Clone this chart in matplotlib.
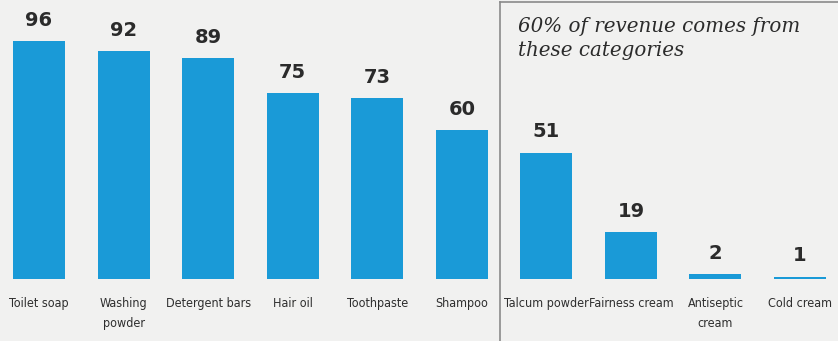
import matplotlib
matplotlib.use('Agg')
import numpy as np
from matplotlib import pyplot as plt
from matplotlib import font_manager
from matplotlib.lines import Line2D

# data
categories = ['Toilet soap', 'Washing\npowder', 'Detergent bars', 'Hair oil', 'Toothpaste',
              'Shampoo', 'Talcum powder', 'Fairness cream', 'Antiseptic\ncream', 'Cold cream']
values = [96, 92, 89, 75, 73, 60, 51, 19, 2, 1]
box_title = '60% of revenue comes from\nthese categories'

names = {f.name for f in font_manager.fontManager.ttflist}
if 'Liberation Sans Narrow' in names:
    label_font = dict(family='Liberation Sans Narrow')
else:
    label_font = dict(family='DejaVu Sans', stretch='condensed')

bg = '#f1f1f0'
blue = '#1a9ad7'

fig = plt.figure(figsize=(8.38, 3.41), dpi=100, facecolor=bg)
W, H = 838, 341
# axes: full width, baseline at y=279 px from top
ax = fig.add_axes((0, (H - 279) / H, 1, 279 / H))
ax.set_facecolor(bg)
step = 84.56
x0 = 39
ax.set_xlim(-x0 / step, (W - x0) / step)
ax.set_ylim(0, 279 / 2.48)
ax.axis('off')

x = np.arange(len(values))
ax.bar(x, values, width=0.615, color=blue)

for xi, v in zip(x, values):
    ax.annotate(str(v), (xi, v), xytext=(0, 8), textcoords='offset points',
                ha='center', va='bottom', fontsize=14, fontweight='bold', color='#2b2b2b')

for xi, c in zip(x, categories):
    ax.annotate(c, (xi, 0), xytext=(0, -13), textcoords='offset points',
                ha='center', va='top', fontsize=9, color='#2e2e2e',
                linespacing=1.65, **label_font)

# box around the last four categories
fig.add_artist(Line2D([500 / W, 500 / W], [0, 1 - 2 / H], color='#8a8a8a', lw=1.2))
fig.add_artist(Line2D([500 / W, 1], [1 - 2 / H, 1 - 2 / H], color='#8a8a8a', lw=1.2))

fig.text(518 / W, 1 - 17 / H, box_title, ha='left', va='top', fontsize=14.3,
         family='DejaVu Serif', style='italic', color='#2b2b2b', linespacing=1.3)

fig.savefig('out.png', dpi=100, facecolor=bg)
